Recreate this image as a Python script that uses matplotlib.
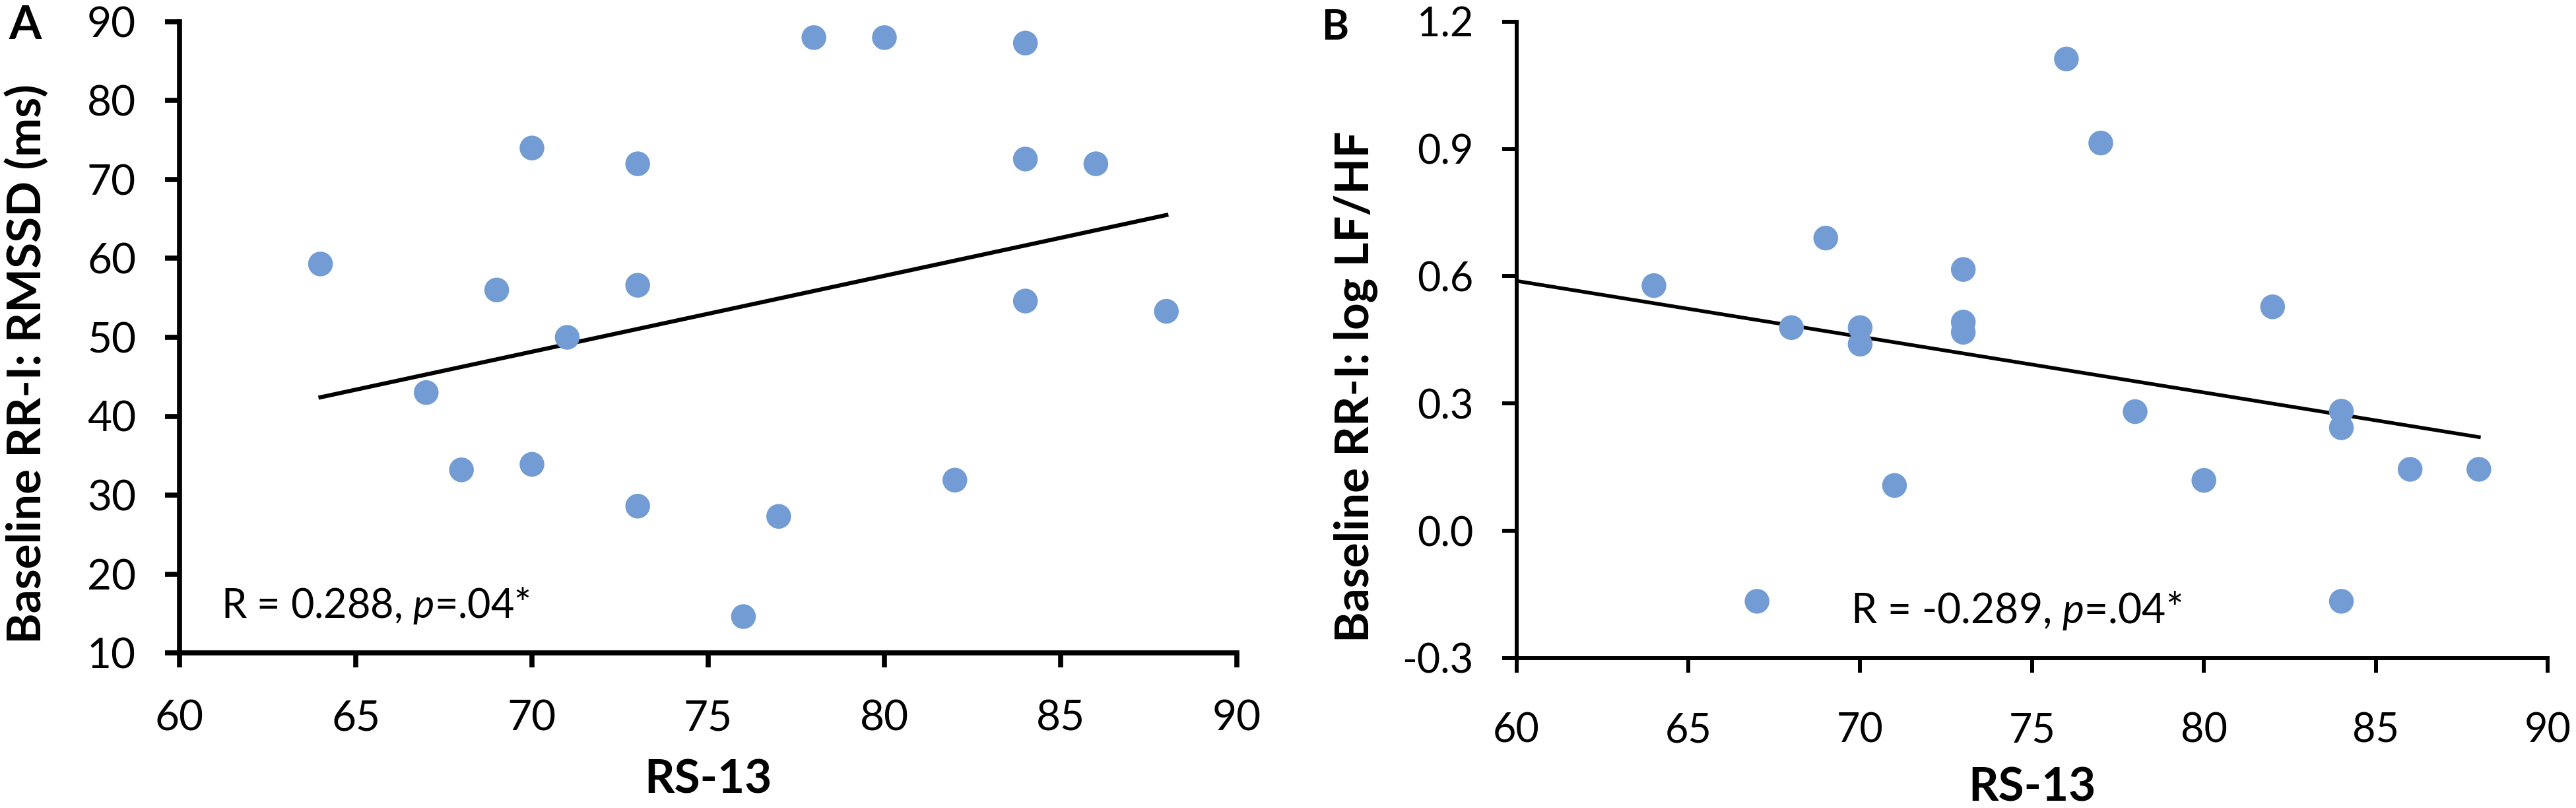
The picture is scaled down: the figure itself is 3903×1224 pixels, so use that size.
import matplotlib
matplotlib.use("Agg")
import matplotlib.pyplot as plt

# RS-13 scores (shared by both panels)
rs13 = [64, 67, 68, 69, 70, 70, 71, 73, 73, 73, 76, 77, 78, 80, 82, 84, 84, 84, 86, 88]
# panel A: baseline RR-I RMSSD (ms)
rmssd = [59.3, 43.0, 33.2, 56.0, 74.0, 33.9, 50.0, 72.0, 56.6, 28.6,
         14.6, 27.3, 88.0, 88.0, 31.9, 87.3, 72.6, 54.6, 72.0, 53.3]
# panel B: baseline RR-I log LF/HF
lfhf = [0.578, -0.166, 0.479, 0.690, 0.479, 0.440, 0.107, 0.616, 0.492, 0.468,
        1.112, 0.914, 0.281, 0.119, 0.528, 0.282, 0.243, -0.166, 0.145, 0.145]

# trendlines as drawn in the figure (end points)
trend_a_x = [64, 88]
trend_a_y = [42.4, 65.5]
trend_b_x = [60, 88]
trend_b_y = [0.589, 0.221]

xticks = [60, 65, 70, 75, 80, 85, 90]
yticks_a = [10, 20, 30, 40, 50, 60, 70, 80, 90]
yticks_b = [-0.3, 0.0, 0.3, 0.6, 0.9, 1.2]

plt.rcParams['font.family'] = ['Lato', 'DejaVu Sans']
plt.rcParams['mathtext.fontset'] = 'custom'
plt.rcParams['mathtext.rm'] = 'Lato'
plt.rcParams['mathtext.it'] = 'Lato:italic'

dot_color = "#739CD4"
W, H = 3903, 1224
fig = plt.figure(figsize=(W / 100, H / 100), dpi=100)

axA = fig.add_axes([272 / W, 1 - 989 / H, (1874 - 272) / W, (989 - 33) / H])
axB = fig.add_axes([2297.6 / W, 1 - 997 / H, (3860 - 2297.6) / W, (997 - 32.8) / H])


def style(ax, lw, xpad, ypad, size):
    for s in ['top', 'right']:
        ax.spines[s].set_visible(False)
    for s in ['left', 'bottom']:
        ax.spines[s].set_linewidth(lw)
        ax.spines[s].set_color('black')
    ax.tick_params(axis='both', direction='out', length=15.8, width=lw,
                   labelsize=size, colors='black')
    ax.tick_params(axis='x', pad=xpad)
    ax.tick_params(axis='y', pad=ypad)
    ax.set_xlim(60, 90)
    ax.set_xticks(xticks)


# Panel A
axA.scatter(rs13, rmssd, s=729, color=dot_color, edgecolors='none', zorder=3)
axA.plot(trend_a_x, trend_a_y, color='black', lw=4.5, zorder=2)
style(axA, 5.5, 35, 31.7, 46)
axA.set_ylim(10, 90)
axA.set_yticks(yticks_a)
axA.text((335 - 272) / (1874 - 272), (989 - 936) / (989 - 33),
         r"R = 0.288, $\mathit{p}$=.04*", transform=axA.transAxes,
         fontsize=44, ha='left', va='baseline')

# Panel B
axB.scatter(rs13, lfhf, s=729, color=dot_color, edgecolors='none', zorder=3)
axB.plot(trend_b_x, trend_b_y, color='black', lw=4.0, zorder=2)
style(axB, 4.3, 43, 31, 44)
axB.set_ylim(-0.3, 1.2)
axB.set_yticks(yticks_b)
axB.set_yticklabels([f"{v:.1f}" for v in yticks_b])
axB.text((2804 - 2297.6) / (3860 - 2297.6), (997 - 944) / (997 - 32.8),
         r"R = -0.289, $\mathit{p}$=.04*", transform=axB.transAxes,
         fontsize=45, ha='left', va='baseline')

# axis titles
fig.text(62 / W, 1 - 551.5 / H, "Baseline RR-I: RMSSD (ms)", rotation=90,
         rotation_mode='anchor', ha='center', va='baseline',
         fontsize=51, fontweight='bold')
fig.text(2074 / W, 1 - 585.5 / H, "Baseline RR-I: log LF/HF", rotation=90,
         rotation_mode='anchor', ha='center', va='baseline',
         fontsize=51, fontweight='bold')
fig.text(1073 / W, 1 - 1202 / H, "RS-13", ha='center', va='baseline',
         fontsize=51, fontweight='bold')
fig.text(3079 / W, 1 - 1214 / H, "RS-13", ha='center', va='baseline',
         fontsize=51, fontweight='bold')

# panel letters
fig.text(13 / W, 1 - 59 / H, "A", ha='left', va='baseline',
         fontsize=51, fontweight='bold')
fig.text(2003 / W, 1 - 60 / H, "B", ha='left', va='baseline',
         fontsize=45, fontweight='bold')

fig.savefig("out.png", dpi=100)
